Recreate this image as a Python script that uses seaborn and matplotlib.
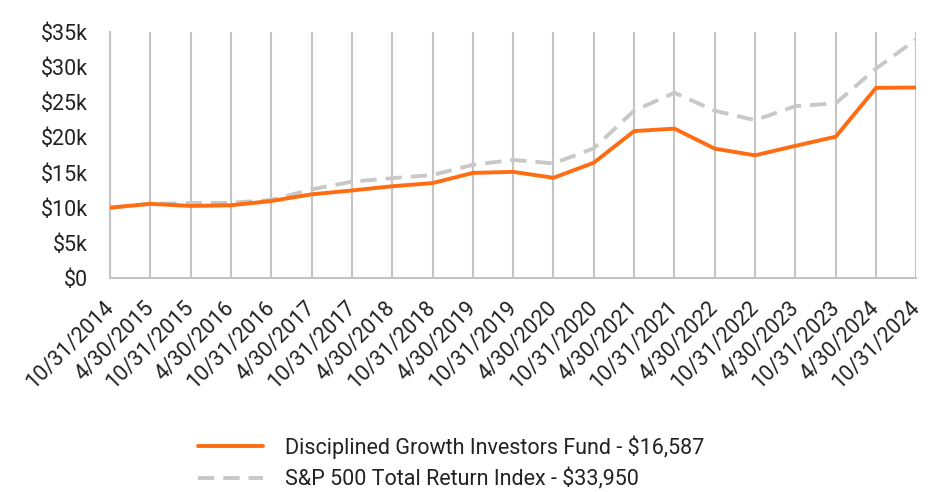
import pandas as pd
import numpy as np
import matplotlib.pyplot as plt
import matplotlib.transforms as mtransforms
import seaborn as sns

# dates (x categories)
dates = ['10/31/2014', '4/30/2015', '10/31/2015', '4/30/2016', '10/31/2016',
         '4/30/2017', '10/31/2017', '4/30/2018', '10/31/2018', '4/30/2019',
         '10/31/2019', '4/30/2020', '10/31/2020', '4/30/2021', '10/31/2021',
         '4/30/2022', '10/31/2022', '4/30/2023', '10/31/2023', '4/30/2024',
         '10/31/2024']

# growth of $10k
fund = [10000, 10550, 10250, 10350, 10950, 11900, 12450, 13050, 13500, 14950,
        15100, 14250, 16400, 20900, 21250, 18400, 17450, 18800, 20100, 27050, 27100]
sp500 = [10000, 10550, 10650, 10700, 11100, 12600, 13700, 14200, 14650, 16100,
         16800, 16300, 18450, 23800, 26350, 23800, 22450, 24450, 24850, 29800, 33950]

fund_label = 'Disciplined Growth Investors Fund - $16,587'
sp_label = 'S&P 500 Total Return Index - $33,950'
y_ticks = [0, 5000, 10000, 15000, 20000, 25000, 30000, 35000]
y_labels = ['$0', '$5k', '$10k', '$15k', '$20k', '$25k', '$30k', '$35k']

df = pd.DataFrame({'x': np.arange(len(dates)), 'fund': fund, 'sp': sp500})

sns.set_style('white')
plt.rcParams['font.family'] = ['Roboto', 'DejaVu Sans']

fig, ax = plt.subplots(figsize=(9.36, 4.92), dpi=100)
fig.subplots_adjust(left=0.1175, right=0.979, top=0.935, bottom=0.435)

grid_c = '#c4c4c4'
for i in range(len(dates)):
    ax.axvline(i, color=grid_c, lw=1.5, zorder=0)

sns.lineplot(data=df, x='x', y='fund', ax=ax, color='#ff6c12', lw=2.8,
             label=fund_label, zorder=3)
sns.lineplot(data=df, x='x', y='sp', ax=ax, color='#c8c8c8', lw=2.8,
             label=sp_label, zorder=2, dashes=False)
ax.lines[-1].set_dashes((4.2, 2.3))

ax.set_xlim(0, len(dates) - 1)
ax.set_ylim(0, 35000)
ax.set_yticks(y_ticks)
ax.set_yticklabels(y_labels)
ax.set_xticks(range(len(dates)))
ax.set_xticklabels(dates, rotation=45, ha='right', rotation_mode='anchor')
ax.tick_params(axis='both', labelsize=15.5, colors='#222222', length=0)
ax.tick_params(axis='y', pad=16)
ax.tick_params(axis='x', pad=14)
# nudge the rotated labels a bit left so they end under their tick
shift = mtransforms.ScaledTranslation(-7 / 100, 0, fig.dpi_scale_trans)
for lab in ax.get_xticklabels():
    lab.set_transform(lab.get_transform() + shift)
ax.set_xlabel('')
ax.set_ylabel('')

for s in ['top', 'right']:
    ax.spines[s].set_visible(False)
for s in ['left', 'bottom']:
    ax.spines[s].set_color(grid_c)
    ax.spines[s].set_linewidth(1.5)

leg = ax.legend(loc='upper center', bbox_to_anchor=(0.423, -0.56), frameon=False,
                fontsize=15.5, handlelength=3.0, labelspacing=0.45, handletextpad=1.0)
for t in leg.get_texts():
    t.set_color('#222222')

fig.savefig('out.png', dpi=100)
